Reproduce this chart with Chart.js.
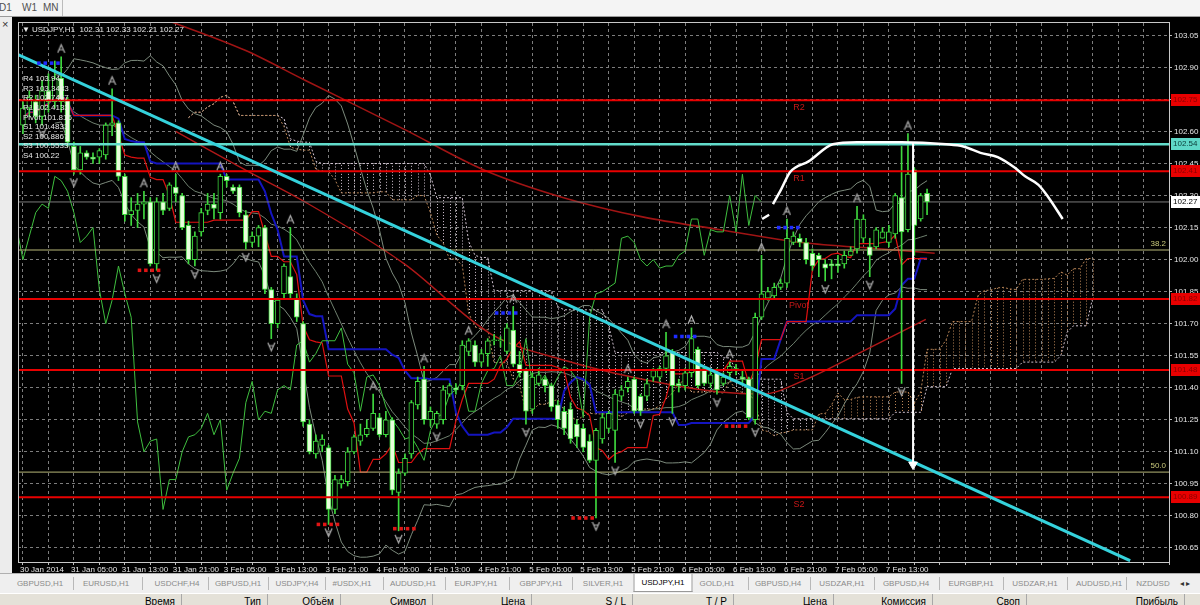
<!DOCTYPE html>
<html>
<head>
<meta charset="utf-8">
<script src="https://cdn.jsdelivr.net/npm/chart.js@4.4.1/dist/chart.umd.min.js"></script>
<style>
body { margin:0; width:1200px; height:605px; overflow:hidden; background:#000; position:relative; font-family:"Liberation Sans", Arial, sans-serif; }
#top { position:absolute; left:0; top:0; width:1200px; height:16px; background:#f4f4f4; border-bottom:1px solid #9a9a9a; font-size:10px; color:#505050; }
#top span { position:absolute; top:2px; }
#left { position:absolute; left:0; top:17px; width:12px; height:556px; background:#ececec; font-size:11px; color:#333; }
#wrap { position:absolute; left:12px; top:17px; width:1188px; height:556px; }
#tabs { position:absolute; left:0; top:573px; width:1200px; height:19px; background:#efefef; border-top:1px solid #b0b0b0; font-size:8px; color:#8a8a8a; }
#tabs span { position:absolute; top:5px; white-space:nowrap; transform:translateX(-50%); }
#tabs .sep { top:3px; width:1px; height:13px; background:#b8b8b8; transform:none; }
#tabs .act { top:0; height:17px; line-height:17px; padding:0 7px; background:#fff; border:1px solid #999; border-top:none; color:#000; }
#cols { position:absolute; left:0; top:593px; width:1200px; height:20px; background:#e4e1d8; border-top:1px solid #fff; font-size:10px; color:#000; }
#cols span { position:absolute; top:2px; white-space:nowrap; transform:translateX(-100%); }
#cols .line { top:0; width:1px; height:20px; background:#a8a8a8; transform:none; }
</style>
</head>
<body>
<div id="top"><span style="left:-1px">D1</span><span style="left:22px">W1</span><span style="left:43px">MN</span><span style="left:62px;top:0;width:1px;height:16px;background:#bbb"></span></div>
<div id="left"><div style="position:absolute;left:2px;top:1px">×</div></div>
<div id="wrap"><canvas id="chart"></canvas></div>
<div id="tabs"></div>
<div id="cols"></div>
<script>
// ---- данные графика USDJPY,H1 ----
const xLabels = ['30 Jan 2014', '31 Jan 05:00', '31 Jan 13:00', '31 Jan 21:00', '3 Feb 05:00', '3 Feb 13:00',
  '3 Feb 21:00', '4 Feb 05:00', '4 Feb 13:00', '4 Feb 21:00', '5 Feb 05:00', '5 Feb 13:00',
  '5 Feb 21:00', '6 Feb 05:00', '6 Feb 13:00', '6 Feb 21:00', '7 Feb 05:00', '7 Feb 13:00'];

const barOpen = [
  102.63,102.71,102.74,102.67,102.79,102.74,102.85,102.75,102.53,102.42,
  102.50,102.48,102.48,102.49,102.63,102.64,102.39,102.21,102.23,102.26,
  102.27,101.98,102.27,102.24,102.34,102.30,102.16,102.00,102.13,102.23,
  102.26,102.22,102.39,102.34,102.34,102.21,102.08,102.11,102.15,101.86,
  101.70,101.84,101.92,101.82,101.70,101.23,101.09,101.13,101.12,100.83,
  100.95,100.96,101.10,101.15,101.18,101.21,101.26,101.18,101.25,100.91,
  101.00,101.09,101.32,101.44,101.25,101.23,101.25,101.37,101.40,101.41,
  101.57,101.60,101.52,101.56,101.62,101.62,101.57,101.67,101.51,101.48,
  101.30,101.42,101.44,101.41,101.32,101.29,101.30,101.23,101.21,101.15,
  101.06,101.16,101.21,101.20,101.36,101.40,101.44,101.36,101.36,101.45,
  101.45,101.49,101.57,101.42,101.41,101.47,101.58,101.49,101.42,101.47,
  101.42,101.47,101.49,101.45,101.44,101.25,101.73,101.82,101.83,101.87,
  101.89,102.08,102.10,102.08,102.03,102.02,101.98,101.98,101.98,101.98,
  102.02,102.05,102.10,102.06,102.06,102.10,102.08,102.12,102.29,102.14,
  102.42,102.19,102.31];
const barHigh = [
  102.74,102.79,102.77,102.84,102.87,102.93,102.95,102.76,102.55,102.53,
  102.51,102.50,102.52,102.64,102.80,102.65,102.40,102.29,102.31,102.32,
  102.29,102.29,102.31,102.36,102.40,102.31,102.18,102.13,102.24,102.31,
  102.31,102.40,102.40,102.35,102.35,102.23,102.13,102.16,102.16,101.87,
  101.82,101.98,102.15,101.84,101.71,101.25,101.18,101.18,101.13,100.99,
  100.99,101.12,101.18,101.23,101.25,101.37,101.28,101.29,101.26,101.02,
  101.09,101.34,101.45,101.50,101.31,101.29,101.41,101.42,101.42,101.62,
  101.63,101.62,101.58,101.63,101.65,101.64,101.70,101.78,101.57,101.49,
  101.47,101.49,101.45,101.42,101.34,101.31,101.33,101.25,101.23,101.18,
  101.21,101.28,101.29,101.39,101.41,101.45,101.45,101.37,101.44,101.49,
  101.50,101.66,101.58,101.44,101.49,101.68,101.59,101.50,101.48,101.49,
  101.47,101.52,101.51,101.48,101.45,101.75,102.02,101.87,101.89,101.91,
  102.19,102.13,102.12,102.10,102.05,102.03,102.00,102.00,102.02,102.04,
  102.06,102.25,102.21,102.10,102.15,102.15,102.16,102.31,102.53,102.59,
  102.43,102.31,102.33];
const barLow = [
  102.59,102.67,102.64,102.63,102.69,102.71,102.69,102.53,102.40,102.40,
  102.47,102.45,102.45,102.47,102.58,102.37,102.18,102.16,102.15,102.19,
  101.97,101.95,102.21,102.23,102.27,102.14,101.98,101.97,102.11,102.21,
  102.19,102.19,102.34,102.31,102.20,102.05,102.06,102.06,101.84,101.63,
  101.68,101.82,101.82,101.71,101.22,101.09,101.07,101.10,100.76,100.81,
  100.93,100.94,101.09,101.13,101.17,101.20,101.17,101.17,100.90,100.73,
  100.99,101.07,101.30,101.23,101.22,101.21,101.23,101.36,101.37,101.39,
  101.55,101.50,101.50,101.50,101.60,101.59,101.56,101.50,101.45,101.23,
  101.28,101.41,101.38,101.29,101.21,101.18,101.14,101.12,101.10,101.05,
  100.79,101.14,101.19,101.05,101.34,101.38,101.28,101.27,101.34,101.43,
  101.43,101.47,101.28,101.38,101.39,101.45,101.40,101.41,101.40,101.37,
  101.41,101.45,101.46,101.42,101.25,101.23,101.72,101.81,101.82,101.86,
  101.87,102.07,102.06,101.98,101.95,101.92,101.90,101.91,101.94,101.96,
  102.02,102.03,102.08,101.92,102.05,102.10,102.06,102.10,101.42,102.13,
  102.02,102.18,102.21];
const barClose = [
  102.71,102.76,102.67,102.79,102.74,102.85,102.74,102.55,102.42,102.50,
  102.48,102.47,102.51,102.63,102.64,102.39,102.21,102.23,102.26,102.27,
  101.98,102.27,102.23,102.35,102.31,102.15,102.00,102.11,102.22,102.26,
  102.24,102.39,102.37,102.32,102.22,102.08,102.11,102.15,101.86,101.70,
  101.81,101.97,101.84,101.73,101.24,101.10,101.15,101.16,100.83,100.97,
  100.97,101.10,101.17,101.18,101.21,101.28,101.18,101.25,100.92,101.00,
  101.07,101.33,101.43,101.25,101.29,101.28,101.39,101.41,101.39,101.60,
  101.62,101.52,101.56,101.62,101.62,101.62,101.68,101.51,101.47,101.29,
  101.45,101.46,101.41,101.31,101.25,101.21,101.16,101.17,101.12,101.06,
  101.20,101.26,101.28,101.37,101.39,101.43,101.29,101.29,101.42,101.48,
  101.49,101.55,101.41,101.41,101.47,101.63,101.41,101.42,101.46,101.39,
  101.45,101.50,101.48,101.44,101.26,101.73,101.84,101.85,101.87,101.89,
  102.10,102.11,102.08,102.00,101.97,102.00,101.96,101.97,101.97,102.02,
  102.04,102.19,102.19,102.02,102.14,102.13,102.13,102.30,102.13,102.40,
  102.16,102.30,102.27];

const yTicks = [100.65, 100.80, 100.95, 101.10, 101.25, 101.40, 101.55, 101.70, 101.85,
  102.00, 102.15, 102.30, 102.45, 102.60, 102.75, 102.90, 103.05];

// уровни пивот
const pivotNames = ['R4', 'R3', 'R2', 'R1', 'Pivot', 'S1', 'S2', 'S3', 'S4'];
const pivotValues = [103.94, 103.3433, 102.7467, 102.4133, 101.816, 101.4833, 100.8867, 100.5533, 100.22];
// фибо
const fibNames = ['38.2', '50.0'];
const fibValues = [102.045, 101.005];
const resistLevel = 102.54;

// трендовая линия и рисунки
const trendBars = [-0.78, 173.9];
const trendPrices = [102.96, 100.59];
const arcStubBars = [116.1, 117.2];
const arcStubPrices = [102.19, 102.21];
const arcBars = [117.8, 119.1, 120.5, 123.4, 127.2, 131.0, 138.0, 145.0, 147.7, 150.4, 153.1, 155.8, 157.4, 159.5, 161.1, 163.3];
const arcPrices = [102.26, 102.33, 102.41, 102.46, 102.54, 102.55, 102.55, 102.54, 102.53, 102.50, 102.48, 102.43, 102.39, 102.35, 102.29, 102.19];
const arrowBars = [139.8, 139.8];
const arrowPrices = [102.55, 101.04];

// скользящие средние
const ma1Bars = [20.9, 34.9, 44.3, 59.9, 72.4, 84.9, 97.3, 109.5, 122.3, 134.8, 143.2];
const ma1Prices = [103.14, 102.98, 102.84, 102.61, 102.42, 102.29, 102.20, 102.14, 102.08, 102.05, 102.03];
const ma2Bars = [24.0, 34.9, 44.3, 59.9, 73.6, 84.9, 97.3, 109.5, 116.1, 122.3, 133.2, 141.8];
const ma2Prices = [102.60, 102.42, 102.27, 101.98, 101.65, 101.53, 101.44, 101.38, 101.37, 101.43, 101.59, 101.72];

// метки (синие у максимумов, красные у минимумов)
const blueMarkBars = [2.5, 74.4, 102.5, 118.7];
const blueMarkPrices = [102.92, 101.75, 101.64, 102.15];
const redMarkBars = [18.3, 46.4, 58.4, 86.4, 110.5];
const redMarkPrices = [101.95, 100.76, 100.74, 100.79, 101.22];

// ---- индикаторы ----
const N = barClose.length;
const idx = barClose.map((_, i) => i);
function midRange(i, len) {
  let hi = -Infinity, lo = Infinity;
  for (let k = Math.max(0, i - len + 1); k <= i; k++) { hi = Math.max(hi, barHigh[k]); lo = Math.min(lo, barLow[k]); }
  return (hi + lo) / 2;
}
const tenkan = idx.map(i => ({ x: i, y: midRange(i, 9) }));
const kijun = idx.map(i => ({ x: i, y: midRange(i, 26) }));
const spanA = idx.map(i => ({ x: i + 26, y: (tenkan[i].y + kijun[i].y) / 2 }));
const spanB = idx.map(i => ({ x: i + 26, y: midRange(i, 52) }));
const chinkou = idx.map(i => ({ x: i - 26, y: barClose[i] }));

const bbUp = [], bbMid = [], bbLow = [];
for (let i = 5; i < N; i++) {
  const w = barClose.slice(Math.max(0, i - 19), i + 1);
  const m = w.reduce((s, v) => s + v, 0) / w.length;
  const sd = Math.sqrt(w.reduce((s, v) => s + (v - m) * (v - m), 0) / w.length);
  bbUp.push({ x: i, y: m + 2 * sd }); bbMid.push({ x: i, y: m }); bbLow.push({ x: i, y: m - 2 * sd });
}

const fracUp = [], fracDown = [];
for (let i = 2; i < N - 2; i++) {
  if (barHigh[i] > barHigh[i - 1] && barHigh[i] > barHigh[i - 2] && barHigh[i] >= barHigh[i + 1] && barHigh[i] >= barHigh[i + 2]) fracUp.push({ x: i, y: barHigh[i] });
  if (barLow[i] < barLow[i - 1] && barLow[i] < barLow[i - 2] && barLow[i] <= barLow[i + 1] && barLow[i] <= barLow[i + 2]) fracDown.push({ x: i, y: barLow[i] });
}

const pts = (bars, prices) => bars.map((b, i) => ({ x: b, y: prices[i] }));
const groupOf4 = (bars, prices) => bars.flatMap((b, g) => [0, 1, 2, 3].map(k => ({ x: b + k, y: prices[g] })));

// значок фрактала: рисунок смещён, чтобы стрелка была над/под ценой
function fractalGlyph(up) {
  const c = document.createElement('canvas');
  c.width = 9; c.height = 30;
  const g = c.getContext('2d');
  g.strokeStyle = '#b0b0b0'; g.lineWidth = 1.2;
  g.beginPath();
  if (up) { g.moveTo(1, 11); g.lineTo(4.5, 3); g.lineTo(8, 11); g.moveTo(2.5, 8); g.lineTo(6.5, 8); }
  else { g.moveTo(1, 19); g.lineTo(4.5, 27); g.lineTo(8, 19); g.moveTo(2.5, 22); g.lineTo(6.5, 22); }
  g.stroke();
  return c;
}

function hLine(value, color, width, order) {
  return { type: 'line', data: [{ x: -5, y: value }, { x: 190, y: value }], borderColor: color, borderWidth: width, pointRadius: 0, order: order };
}
function lineSet(data, color, width, order, extra) {
  return Object.assign({ type: 'line', data: data, borderColor: color, borderWidth: width, pointRadius: 0, order: order, spanGaps: false }, extra || {});
}

const visiblePivots = ['R2', 'R1', 'Pivot', 'S1', 'S2'];
const lastClose = barClose[N - 1];

// облако ишимоку
const cloudPlugin = {
  id: 'cloud',
  beforeDatasetsDraw(chart) {
    const { ctx, chartArea: a, scales: { x, y } } = chart;
    ctx.save();
    ctx.beginPath(); ctx.rect(a.left, a.top, a.width, a.height); ctx.clip();
    ctx.lineWidth = 1; ctx.setLineDash([1, 2]);
    spanA.forEach((p, i) => {
      const q = spanB[i];
      const px = Math.round(x.getPixelForValue(p.x)) + 0.5;
      ctx.strokeStyle = p.y >= q.y ? '#b88456' : '#cfc0cf';
      ctx.beginPath();
      ctx.moveTo(px, y.getPixelForValue(p.y));
      ctx.lineTo(px, y.getPixelForValue(q.y));
      ctx.stroke();
    });
    ctx.restore();
  }
};

// тексты поверх графика
const textPlugin = {
  id: 'texts',
  afterDatasetsDraw(chart) {
    const { ctx, chartArea: a, scales: { x, y } } = chart;
    ctx.save();
    ctx.strokeStyle = '#c8c8c8'; ctx.lineWidth = 1;
    ctx.strokeRect(a.left + 0.5, a.top - 0.5, a.width, a.height + 1);
    ctx.textBaseline = 'middle';
    ctx.font = '9px "Liberation Sans", Arial';
    ctx.fillStyle = '#c81818'; ctx.textAlign = 'center';
    pivotNames.forEach((n, i) => {
      if (visiblePivots.includes(n)) ctx.fillText(n, x.getPixelForValue(121.9), y.getPixelForValue(pivotValues[i]) + 7);
    });
    ctx.font = '8px "Liberation Sans", Arial';
    ctx.fillStyle = '#c8c87a'; ctx.textAlign = 'right';
    fibNames.forEach((n, i) => ctx.fillText(n, a.right - 3, y.getPixelForValue(fibValues[i]) - 6));
    ctx.fillStyle = '#e8e8e8'; ctx.textAlign = 'left';
    ctx.fillText('▼', a.left + 4, a.top + 7);
    ctx.fillText('USDJPY,H1  ' + [barOpen[N - 1], barHigh[N - 1], barLow[N - 1], barClose[N - 1]].map(v => v.toFixed(2)).join(' '), a.left + 14, a.top + 7);
    pivotNames.forEach((n, i) => ctx.fillText(n + ' ' + pivotValues[i], a.left + 5, a.top + 56 + i * 9.6));
    ctx.restore();
  },
  afterDraw(chart) {
    const { ctx, chartArea: a, scales: { y } } = chart;
    const boxes = [];
    pivotNames.forEach((n, i) => { if (visiblePivots.includes(n)) boxes.push([pivotValues[i], '#e80000', '#8a0000']); });
    boxes.push([resistLevel, '#5fd8c8', '#0a3a36']);
    boxes.push([lastClose, '#ffffff', '#000000']);
    ctx.save();
    ctx.font = '8px "Liberation Sans", Arial';
    ctx.textBaseline = 'middle'; ctx.textAlign = 'left';
    boxes.forEach(([v, fill, txt]) => {
      const py = Math.round(y.getPixelForValue(v));
      ctx.fillStyle = fill;
      ctx.fillRect(a.right + 2, py - 6, 29, 12);
      ctx.fillStyle = txt;
      ctx.fillText(v.toFixed(2), a.right + 4, py);
    });
    ctx.restore();
  }
};

const xGridTicks = [];
for (let b = 0; b <= 180; b += 4) xGridTicks.push(b);

new Chart(document.getElementById('chart'), {
  type: 'bar',
  data: {
    datasets: [
      lineSet(bbUp, '#7c8a7c', 1, 90),
      lineSet(bbMid, '#6f806f', 1, 90),
      lineSet(bbLow, '#7c8a7c', 1, 90),
      lineSet(spanA, '#b88456', 1, 89, { borderDash: [2, 2] }),
      lineSet(spanB, '#cfc0cf', 1, 89, { borderDash: [2, 2] }),
      lineSet(pts(ma1Bars, ma1Prices), '#a01414', 1.6, 85, { cubicInterpolationMode: 'monotone' }),
      lineSet(pts(ma2Bars, ma2Prices), '#b01818', 1.4, 85, { cubicInterpolationMode: 'monotone' }),
      lineSet(kijun, '#1414c0', 2, 80),
      lineSet(tenkan, '#e01010', 1.2, 79),
      lineSet(chinkou, '#3fbf3f', 1, 75),
      hLine(fibValues[0], '#b8b878', 1, 74),
      hLine(fibValues[1], '#b8b878', 1, 74),
      hLine(lastClose, '#7a7a7a', 1, 74),
      {
        type: 'bar', order: 70, grouped: false, barThickness: 1,
        data: idx.map(i => ({ x: i, y: [barLow[i], barHigh[i]] })),
        backgroundColor: '#3ed83e', borderWidth: 0
      },
      {
        type: 'bar', order: 65, grouped: false, barThickness: 5, minBarLength: 1,
        data: idx.map(i => ({ x: i, y: [barOpen[i], barClose[i]] })),
        backgroundColor: ctx => barClose[ctx.dataIndex] >= barOpen[ctx.dataIndex] ? '#000000' : '#e8ffdc',
        borderColor: '#3ed83e', borderWidth: 1, borderSkipped: false
      },
      ...pivotValues.map(v => hLine(v, '#e80000', 2, 50)),
      hLine(resistLevel, '#62dccb', 2.5, 49),
      lineSet(pts(trendBars, trendPrices), '#35d2dc', 3, 45),
      lineSet(pts(arcStubBars, arcStubPrices), '#ffffff', 2.5, 40),
      lineSet(pts(arcBars, arcPrices), '#ffffff', 2.5, 40, { cubicInterpolationMode: 'monotone' }),
      lineSet(pts(arrowBars, arrowPrices), '#ffffff', 2, 40),
      { type: 'scatter', order: 39, data: [{ x: arrowBars[1], y: arrowPrices[1] }], pointStyle: 'triangle', rotation: 180, pointRadius: 5, backgroundColor: '#ffffff', borderColor: '#ffffff' },
      { type: 'scatter', order: 30, data: fracUp, pointStyle: fractalGlyph(true) },
      { type: 'scatter', order: 30, data: fracDown, pointStyle: fractalGlyph(false) },
      { type: 'scatter', order: 30, data: groupOf4(blueMarkBars, blueMarkPrices), pointStyle: 'rect', pointRadius: 2.5, backgroundColor: '#1e2cff', borderWidth: 0 },
      { type: 'scatter', order: 30, data: groupOf4(redMarkBars, redMarkPrices), pointStyle: 'rect', pointRadius: 2.5, backgroundColor: '#e01414', borderWidth: 0 }
    ]
  },
  options: {
    responsive: true,
    maintainAspectRatio: false,
    animation: false,
    events: [],
    devicePixelRatio: 1,
    layout: { padding: { top: 3, left: 0, right: 0, bottom: 0 } },
    plugins: { legend: { display: false }, tooltip: { enabled: false } },
    scales: {
      x: {
        type: 'linear', min: -0.78, max: 180, offset: false,
        afterBuildTicks: s => { s.ticks = xGridTicks.map(v => ({ value: v })); },
        afterFit: s => { s.height = 11; s.paddingLeft = 0; s.paddingRight = 0; },
        grid: { color: '#7d7d7d', offset: false, tickLength: 3, tickColor: '#bbbbbb', tickBorderDash: [] },
        border: { display: true, color: '#c8c8c8', dash: [3, 3] },
        ticks: {
          autoSkip: false, maxRotation: 0, align: 'start', padding: 0, labelOffset: -3,
          color: '#e6e6e6', font: { family: 'Liberation Sans', size: 8 },
          callback: v => (v % 8 === 0 && v / 8 < xLabels.length) ? xLabels[v / 8] : ''
        }
      },
      y: {
        position: 'right', min: 100.584, max: 103.108,
        afterBuildTicks: s => { s.ticks = yTicks.map(v => ({ value: v })); },
        afterFit: s => { s.width = 31; s.paddingTop = 0; s.paddingBottom = 0; },
        grid: { color: '#7d7d7d', tickLength: 3, tickColor: '#bbbbbb', tickBorderDash: [] },
        border: { display: true, color: '#c8c8c8', dash: [3, 3] },
        ticks: {
          padding: 2, color: '#e6e6e6', font: { family: 'Liberation Sans', size: 8 },
          callback: v => Number(v).toFixed(2)
        }
      }
    }
  },
  plugins: [cloudPlugin, textPlugin]
});

// вкладки графиков и заголовки колонок терминала
const tabNames = ['GBPUSD,H1', 'EURUSD,H1', 'USDCHF,H4', 'GBPUSD,H1', 'USDJPY,H4', '#USDX,H1', 'AUDUSD,H1', 'EURJPY,H1', 'GBPJPY,H1', 'SILVER,H1',
  'USDJPY,H1', 'GOLD,H1', 'GBPUSD,H4', 'USDZAR,H1', 'GBPUSD,H4', 'EURGBP,H1', 'USDZAR,H1', 'AUDUSD,H1', 'NZDUSD'];
const tabCenters = [40, 106, 177, 238, 297, 352, 413, 476, 541, 603, 663, 717, 778, 842, 906, 971, 1035, 1099, 1153];
const tabs = document.getElementById('tabs');
tabNames.forEach((n, i) => {
  const s = document.createElement('span');
  s.textContent = n;
  s.style.left = tabCenters[i] + 'px';
  if (n === 'USDJPY,H1' && i === 10) s.className = 'act';
  tabs.appendChild(s);
  if (i > 0 && i !== 10 && i !== 11) {
    const d = document.createElement('span');
    d.className = 'sep';
    d.style.left = Math.round((tabCenters[i] + tabCenters[i - 1]) / 2) + 'px';
    tabs.appendChild(d);
  }
});
const arrows = document.createElement('span');
arrows.textContent = '◂ ▸'; arrows.style.left = '1185px'; arrows.style.color = '#333';
tabs.appendChild(arrows);

const colNames = ['Время', 'Тип', 'Объём', 'Символ', 'Цена', 'S / L', 'T / P', 'Цена', 'Комиссия', 'Своп', 'Прибыль'];
const colRight = [175, 261, 334, 426, 525, 626, 727, 827, 926, 1020, 1178];
const cols = document.getElementById('cols');
colNames.forEach((n, i) => {
  const s = document.createElement('span');
  s.textContent = n; s.style.left = colRight[i] + 'px';
  cols.appendChild(s);
  const l = document.createElement('span');
  l.className = 'line'; l.style.left = (colRight[i] + 6) + 'px';
  cols.appendChild(l);
});
</script>
</body>
</html>
